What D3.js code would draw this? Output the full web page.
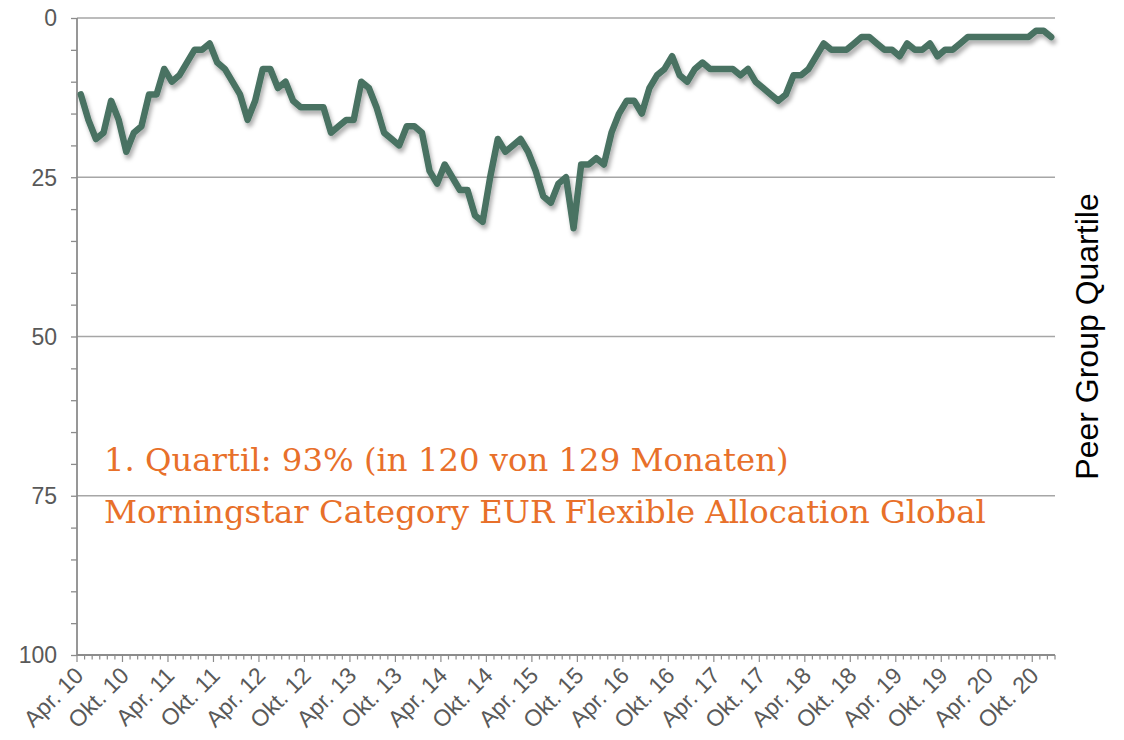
<!DOCTYPE html>
<html>
<head>
<meta charset="utf-8">
<script src="https://cdn.jsdelivr.net/npm/d3@7"></script>
<style>
	body { margin: 0; background: #fff; }
	svg { display: block; }
</style>
</head>
<body>
<div class="graphic__chart"></div>
<script>
// monthly peer group rank, Apr 2010 .. Dec 2020
const ranks = [
	12, 16, 19, 18, 13, 16, 21, 18, 17, 12,
	12, 8, 10, 9, 7, 5, 5, 4, 7, 8,
	10, 12, 16, 13, 8, 8, 11, 10, 13, 14,
	14, 14, 14, 18, 17, 16, 16, 10, 11, 14,
	18, 19, 20, 17, 17, 18, 24, 26, 23, 25,
	27, 27, 31, 32, 25, 19, 21, 20, 19, 21,
	24, 28, 29, 26, 25, 33, 23, 23, 22, 23,
	18, 15, 13, 13, 15, 11, 9, 8, 6, 9,
	10, 8, 7, 8, 8, 8, 8, 9, 8, 10,
	11, 12, 13, 12, 9, 9, 8, 6, 4, 5,
	5, 5, 4, 3, 3, 4, 5, 5, 6, 4,
	5, 5, 4, 6, 5, 5, 4, 3, 3, 3,
	3, 3, 3, 3, 3, 3, 2, 2, 3,
]
const months = d3.timeMonth.range(new Date(2010, 3, 1), new Date(2021, 0, 1))
const tickLabels = [
	'Apr. 10', 'Okt. 10', 'Apr. 11', 'Okt. 11', 'Apr. 12', 'Okt. 12',
	'Apr. 13', 'Okt. 13', 'Apr. 14', 'Okt. 14', 'Apr. 15', 'Okt. 15',
	'Apr. 16', 'Okt. 16', 'Apr. 17', 'Okt. 17', 'Apr. 18', 'Okt. 18',
	'Apr. 19', 'Okt. 19', 'Apr. 20', 'Okt. 20',
]
const yTicks = [0, 25, 50, 75, 100]
const notes = [
	'1. Quartil: 93% (in 120 von 129 Monaten)',
	'Morningstar Category EUR Flexible Allocation Global',
]

const width = 1124
const height = 740
const plot = { left: 77, right: 1055, top: 18, bottom: 655 }
const axisColor = '#8c8c8c'
const textColor = '#595959'
const sans = 'Liberation Sans, Arial, sans-serif'

const svg = d3.select('.graphic__chart').append('svg')
	.attr('width', width)
	.attr('height', height)

svg.append('defs').append('filter')
	.attr('id', 'shadow')
	.attr('x', '-5%').attr('y', '-20%')
	.attr('width', '110%').attr('height', '140%')
	.append('feDropShadow')
		.attr('dx', 2)
		.attr('dy', 4)
		.attr('stdDeviation', 2.2)
		.attr('flood-color', '#000')
		.attr('flood-opacity', 0.32)

const x = d3.scaleBand()
	.domain(months.map((d, i) => i))
	.range([plot.left, plot.right])

const y = d3.scaleLinear()
	.domain([0, 100])
	.range([plot.top, plot.bottom])

// gridlines
svg.append('g')
	.selectAll('line')
	.data(yTicks.filter(d => d < 100))
	.join('line')
		.attr('x1', plot.left)
		.attr('x2', plot.right)
		.attr('y1', d => y(d))
		.attr('y2', d => y(d))
		.attr('stroke', '#a6a6a6')
		.attr('stroke-width', 1.3)

// y axis, minor ticks every 5
const yAxis = svg.append('g')
	.attr('transform', `translate(${plot.left},0)`)
	.call(d3.axisLeft(y).tickValues(d3.range(0, 101, 5)).tickSize(6).tickFormat(''))
yAxis.select('.domain').remove()
yAxis.selectAll('line').attr('stroke', axisColor).attr('stroke-width', 1.3)

svg.append('line')
	.attr('x1', plot.left).attr('x2', plot.left)
	.attr('y1', plot.top).attr('y2', plot.bottom)
	.attr('stroke', axisColor)
	.attr('stroke-width', 1.8)

svg.append('g')
	.selectAll('text')
	.data(yTicks)
	.join('text')
		.attr('x', 57)
		.attr('y', d => y(d))
		.attr('dy', '0.36em')
		.attr('text-anchor', 'end')
		.attr('font-family', sans)
		.attr('font-size', 23)
		.attr('fill', textColor)
		.text(d => d)

// x axis, one tick per month boundary
const boundaries = d3.range(months.length + 1)
const bx = i => plot.left + i * x.bandwidth()
svg.append('g')
	.selectAll('line')
	.data(boundaries)
	.join('line')
		.attr('x1', bx)
		.attr('x2', bx)
		.attr('y1', plot.bottom)
		.attr('y2', i => plot.bottom + (i % 6 === 0 ? 7 : 4.5))
		.attr('stroke', axisColor)
		.attr('stroke-width', 1.2)

svg.append('line')
	.attr('x1', plot.left).attr('x2', plot.right)
	.attr('y1', plot.bottom).attr('y2', plot.bottom)
	.attr('stroke', axisColor)
	.attr('stroke-width', 1.8)

svg.append('g')
	.selectAll('text')
	.data(tickLabels)
	.join('text')
		.attr('transform', (d, i) => `translate(${x(i * 6) + x.bandwidth() / 2 + 4},${plot.bottom + 22}) rotate(-45)`)
		.attr('text-anchor', 'end')
		.attr('font-family', sans)
		.attr('font-size', 23)
		.attr('fill', textColor)
		.text(d => d)

// series
const line = d3.line()
	.x((d, i) => x(i) + x.bandwidth() / 2)
	.y(d => y(d))

svg.append('path')
	.datum(ranks)
	.attr('d', line)
	.attr('fill', 'none')
	.attr('stroke', '#487262')
	.attr('stroke-width', 6.5)
	.attr('stroke-linejoin', 'round')
	.attr('stroke-linecap', 'round')
	.attr('filter', 'url(#shadow)')

// notes
svg.append('g')
	.selectAll('text')
	.data(notes)
	.join('text')
		.attr('x', 104)
		.attr('y', (d, i) => 471 + i * 52)
		.attr('font-family', 'DejaVu Serif, Georgia, serif')
		.attr('font-size', 32.3)
		.attr('fill', '#e8702a')
		.text(d => d)

svg.append('text')
	.attr('transform', `translate(1098,${(plot.top + plot.bottom) / 2}) rotate(-90)`)
	.attr('text-anchor', 'middle')
	.attr('font-family', sans)
	.attr('font-size', 32)
	.attr('fill', '#000')
	.text('Peer Group Quartile')
</script>
</body>
</html>
